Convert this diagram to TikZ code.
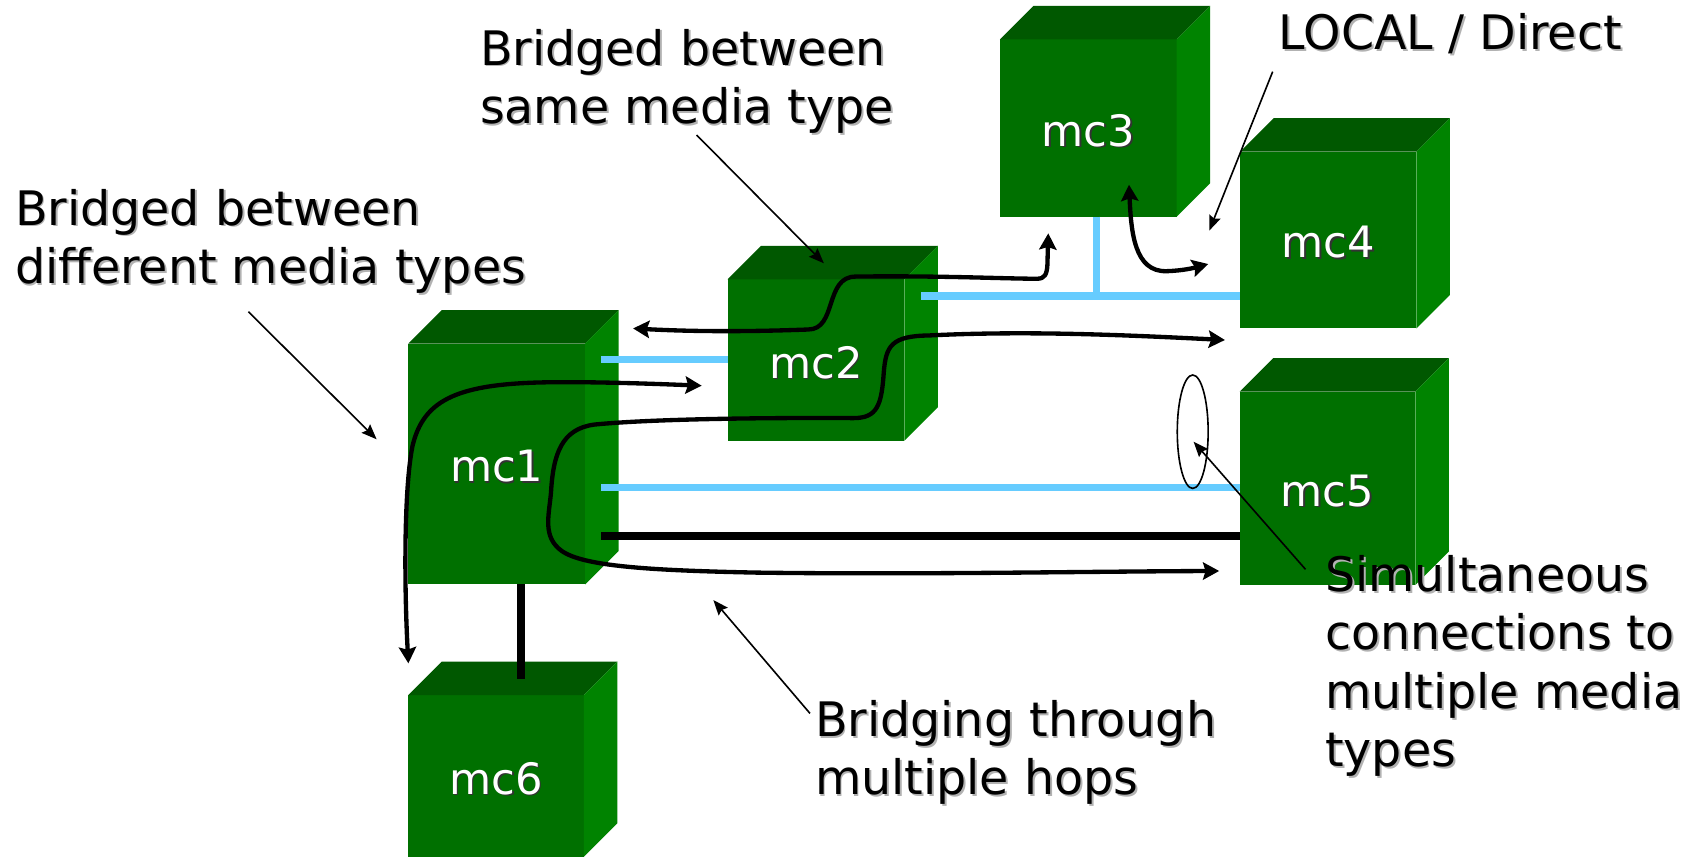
\documentclass[tikz,border=0pt]{standalone}
\usepackage{fontspec}
\setmainfont{DejaVu Sans}
\usetikzlibrary{arrows.meta,fit,shapes.geometric}

\definecolor{frontgreen}{RGB}{0,112,0}
\definecolor{topgreen}{RGB}{0,88,0}
\definecolor{sidegreen}{RGB}{0,131,0}
\definecolor{medialink}{RGB}{102,204,255}

% text with a soft offset copy behind it
\newcommand\dropshadow[3][0.9pt]{\makebox[0pt][l]{\hspace*{#1}\raisebox{-#1}{\color{#2}#3}}#3}
\newcommand\notefont{\fontsize{22pt}{27pt}\selectfont}
\newcommand\depthoff{31}

% a green box: front face given by its corners, top and side faces added behind-right
\newcommand\mcube[5]{%
  \node[cubefront, fit={(#2,#3) (#4,#5)}] (#1) {};
  \fill[topgreen] (#1.north west) -- ++(\depthoff,-\depthoff)
     -- ([shift={(\depthoff,-\depthoff)}]#1.north east) -- (#1.north east) -- cycle;
  \fill[sidegreen] (#1.north east) -- ++(\depthoff,-\depthoff)
     -- ([shift={(\depthoff,-\depthoff)}]#1.south east) -- (#1.south east) -- cycle;
  \node[cubelabel] (#1-label) at ([yshift=-1.5pt]#1.center) {\dropshadow[0.7pt]{black!80}{#1}};
}

\begin{document}
\begin{tikzpicture}[x=0.5pt,y=-0.5pt,
  cubefront/.style={fill=frontgreen, inner sep=0, outer sep=0},
  cubelabel/.style={text=white, inner sep=0, font=\fontsize{20pt}{24pt}\selectfont},
  note/.style={inner sep=0, outer sep=0, anchor=base west, font=\notefont},
  bluelink/.style={draw=medialink, line width=3.4pt},
  blacklink/.style={draw=black, line width=3.7pt},
  route/.style={line width=2pt, line join=round,
    arrows={Stealth[length=7.5pt,width=8pt,inset=1.2pt]-Stealth[length=7.5pt,width=8pt,inset=1.2pt]}},
  pointer/.style={line width=0.75pt, -{Stealth[length=7pt,width=5.5pt,inset=1pt]}}]

\useasboundingbox (0,0) rectangle (1568,793);

% machines
\mcube{mc1}{378}{318}{541.5}{541}
\mcube{mc2}{673.5}{258.5}{837}{408}
\mcube{mc3}{925.6}{36.4}{1089.2}{200.6}
\mcube{mc4}{1148}{140.4}{1311}{304}
\mcube{mc5}{1147.4}{362.5}{1310}{541.5}
\mcube{mc6}{378}{643.3}{540.5}{793}

% media links
\coordinate (l12) at (556.3,332.6);
\draw[bluelink] (l12) -- (l12 -| mc2.west);
\coordinate (l15b) at (556.3,451.4);
\draw[bluelink] (l15b) -- (l15b -| mc5.west);
\coordinate (l15k) at (556.3,496.1);
\draw[blacklink] (l15k) -- (l15k -| mc5.west);
\coordinate (l24) at (852.5,274);
\draw[bluelink] (l24) -- (l24 -| mc4.west);
\coordinate (l3) at (1015,274);
\draw[bluelink] (l3 |- mc3.south) -- (l3);
\coordinate (l16) at (482.2,628.8);
\draw[blacklink] (l16 |- mc1.south) -- (l16);

% bridged routes
\coordinate (a1) at (586,304);
\coordinate (a2) at (970.3,216);
\draw[route] (a1) .. controls (660,308) and (720,306) .. (748,305)
  .. controls (775,305) and (763,256) .. (792,256)
  .. controls (870,255) and (930,258) .. (960,258)
  .. controls (967,258) and (969,254) .. (969.5,245) -- (a2);

\coordinate (b1) at (649.5,357);
\coordinate (b2) at (378,614);
\draw[route] (b1) .. controls (600,355) and (540,353) .. (500,354)
  .. controls (420,356) and (392,372) .. (382,412)
  .. controls (374,450) and (374,540) .. (b2);

\coordinate (c1) at (1133.8,314.7);
\coordinate (c2) at (1128.5,528.5);
\draw[route] (c1) .. controls (1040,310) and (950,306) .. (860,310.5)
  .. controls (825,311) and (820,320) .. (818,345)
  .. controls (816,375) and (812,387) .. (790,387)
  .. controls (700,386.5) and (600,388) .. (550,393)
  .. controls (520,397) and (512,420) .. (510,456)
  .. controls (508,478) and (502,497) .. (520,510)
  .. controls (540,524) and (600,528) .. (700,530)
  .. controls (850,532) and (1000,529) .. (c2);

\coordinate (d1) at (1045,171);
\coordinate (d2) at (1118.4,244.4);
\draw[route] (d1) .. controls (1047,215) and (1050,252) .. (1080,251)
  .. controls (1095,250.5) and (1105,248) .. (d2);

% bundle of parallel links
\node[ellipse, draw, line width=0.75pt, minimum width=14.3pt, minimum height=52.5pt, inner sep=0] (bundle) at (1104,399.6) {};

% notes
\node[note] (diffnote) at (13.9,208.3) {\begin{tabular}[t]{@{}l@{}}\dropshadow{black!30}{Bridged between}\\\dropshadow{black!30}{different media types}\end{tabular}};
\node[note] (samenote) at (444.3,60.2) {\begin{tabular}[t]{@{}l@{}}\dropshadow{black!30}{Bridged between}\\\dropshadow{black!30}{same media type}\end{tabular}};
\node[note] (localnote) at (1183.8,45.7) {\dropshadow{black!30}{LOCAL / Direct}};
\node[note] (hopnote) at (754.4,681.8) {\begin{tabular}[t]{@{}l@{}}\dropshadow{black!30}{Bridging through}\\\dropshadow{black!30}{multiple hops}\end{tabular}};
\node[note] (simnote) at (1226.5,547.6) {\begin{tabular}[t]{@{}l@{}}\dropshadow{black!30}{Simultaneous}\\\dropshadow{black!30}{connections to}\\\dropshadow{black!30}{multiple media}\\\dropshadow{black!30}{types}\end{tabular}};

% pointers from the notes
\coordinate (p1s) at (229.9,288.5);
\coordinate (p1e) at (348.6,406.6);
\draw[pointer] (p1s) -- (p1e);
\coordinate (p2s) at (644.8,125);
\coordinate (p2e) at (762.6,243.7);
\draw[pointer] (p2s) -- (p2e);
\coordinate (p3s) at (1178,66.3);
\coordinate (p3e) at (1119.3,213.5);
\draw[pointer] (p3s) -- (p3e);
\coordinate (p4s) at (749.7,660.3);
\coordinate (p4e) at (660.3,555.4);
\draw[pointer] (p4s) -- (p4e);
\coordinate (p5s) at (1208.4,527);
\coordinate (p5e) at (1104.8,408.8);
\draw[pointer] (p5s) -- (p5e);

\end{tikzpicture}
\end{document}
